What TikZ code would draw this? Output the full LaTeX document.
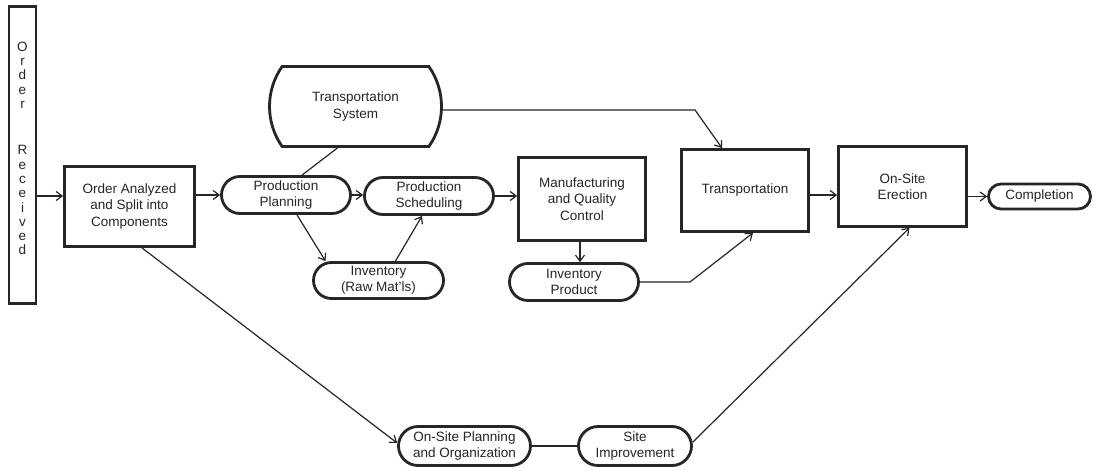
\documentclass[tikz,border=0pt]{standalone}
\usepackage{fontspec}
\setmainfont{Liberation Sans}
\usetikzlibrary{shapes.misc,arrows.meta}

\tikzset{
  ink/.style={draw=black!85},
  label text/.style={font=\fontsize{13.5}{16.5}\selectfont, text=black!85, align=center, inner sep=0pt},
  stepbox/.style={ink, label text, rectangle, line width=2.8pt},
  capsule/.style={ink, label text, rounded rectangle, line width=2.8pt},
  storebox/.style={ink, label text, rounded rectangle, rounded rectangle arc length=70, line width=2.8pt},
  link/.style={draw=black!85, line width=1.2pt},
  flow/.style={link, -{Straight Barb[length=6pt,width=9pt,line width=1.2pt]}}
}

\begin{document}
\begin{tikzpicture}[x=1pt,y=-1pt]
  \useasboundingbox[fill=white] (0,0) rectangle (1096,471);

  % start of the process: tall vertical box with stacked letters
  \node[stepbox, minimum width=27pt, minimum height=297pt] (recv) at (22.5,155) {};
  \node[label text, font=\fontsize{13.5}{14.3}\selectfont] (recvtext) at ([yshift=6.5pt]recv.center)
    {O\\r\\d\\e\\r\\[32pt]R\\e\\c\\e\\i\\v\\e\\d};

  % main chain
  \node[stepbox, minimum width=130pt, minimum height=80pt] (analyze) at (129.5,206.5)
    {Order Analyzed\\and Split into\\Components};
  \node[capsule, minimum width=129pt, minimum height=37pt] (pplan) at (286,195)
    {Production\\Planning};
  \node[capsule, minimum width=129pt, minimum height=37pt] (psched) at (429,196)
    {Production\\Scheduling};
  \node[storebox, minimum width=172pt, minimum height=80pt] (tsys) at (355.5,106.5)
    {Transportation\\System};
  \node[capsule, minimum width=130pt, minimum height=36pt] (invraw) at (378.5,280.5)
    {Inventory\\(Raw Mat'ls)};
  \node[stepbox, minimum width=127pt, minimum height=83pt] (mfg) at (582,199)
    {Manufacturing\\and Quality\\Control};
  \node[capsule, minimum width=129pt, minimum height=37pt] (invprod) at (574,282)
    {Inventory\\Product};
  \node[stepbox, minimum width=127pt, minimum height=82pt] (transp) at (745,190.5)
    {Transportation};
  \node[stepbox, minimum width=128pt, minimum height=80pt] (erect) at (902.5,186.5)
    {On-Site\\Erection};
  \node[capsule, minimum width=102pt, minimum height=25pt] (compl) at (1039.5,196.5)
    {Completion};

  % site branch
  \node[capsule, minimum width=132pt, minimum height=39pt] (osplan) at (464.5,446)
    {On-Site Planning\\and Organization};
  \node[capsule, minimum width=113pt, minimum height=39pt] (siteimp) at (635,446)
    {Site\\Improvement};

  % bend points
  \coordinate (tbend) at (695,110);
  \coordinate (pbend) at (690,282);

  % connectors
  \draw[flow] (recv.east |- 0,196) -- (analyze.west |- 0,196);
  \draw[flow] (analyze.east |- pplan.west) -- (pplan.west);
  \draw[flow] (pplan.east) -- (psched.west |- pplan.east);
  \draw[flow] (psched.east) -- (mfg.west |- psched.east);
  \draw[link] ([xshift=-18pt]tsys.south) -- ([xshift=16pt]pplan.north);
  \draw[flow] (tsys.east |- tbend) -- (tbend) -- ([xshift=-23pt]transp.north);
  \draw[flow] ([xshift=11pt]pplan.south) -- ([xshift=-53pt]invraw.north);
  \draw[flow] ([xshift=17pt]invraw.north) -- ([xshift=-7pt]psched.south);
  \draw[flow] ([xshift=-2pt]mfg.south) -- ([xshift=-2pt]mfg.south |- invprod.north);
  \draw[flow] (invprod.east |- pbend) -- (pbend) -- ([xshift=8pt]transp.south);
  \draw[flow] (transp.east |- 0,195) -- (erect.west |- 0,195);
  \draw[flow] (erect.east |- compl.west) -- (compl.west);
  \draw[flow] ([xshift=12.5pt]analyze.south) -- ([yshift=3pt]osplan.west);
  \draw[link] (osplan.east) -- (siteimp.west);
  \draw[flow] ([yshift=4pt]siteimp.east) -- ([xshift=7pt]erect.south);
\end{tikzpicture}
\end{document}
